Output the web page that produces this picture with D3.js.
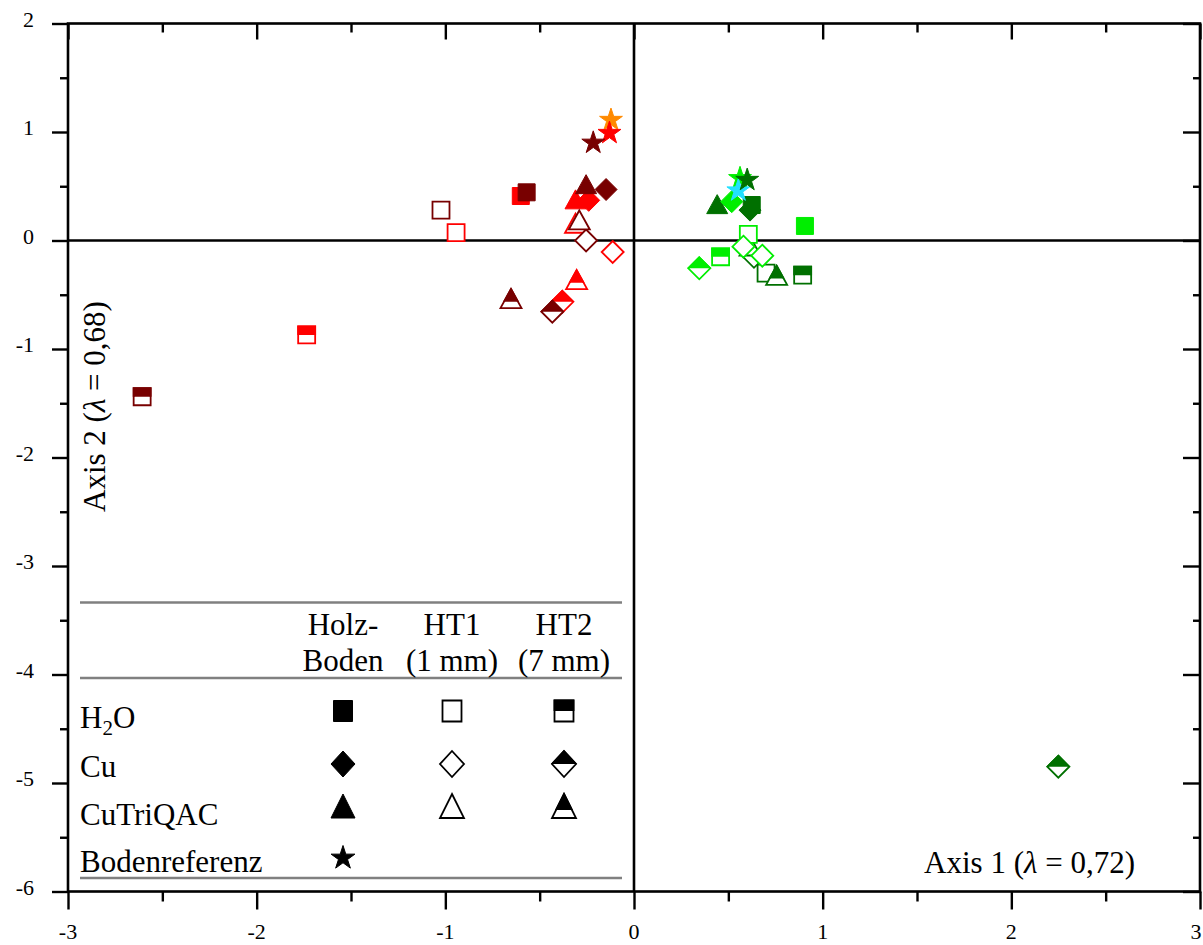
<!DOCTYPE html>
<html>
<head>
<meta charset="utf-8">
<script src="https://cdn.jsdelivr.net/npm/d3@7"></script>
<style>
  body { margin: 0; background: #fff; }
  svg { display: block; }
  text { font-family: "Liberation Serif", "Times New Roman", serif; fill: #000; }
</style>
</head>
<body>
<svg id="chart" width="1203" height="945"></svg>
<script>
// ---- data: CA ordination scores, [axis1, axis2, treatment, substrate] ----
const treatments = ["H2O", "Cu", "CuTriQAC", "Bodenreferenz"];
const substrates = ["Holz-Boden", "HT1 (1 mm)", "HT2 (7 mm)"];

const redPoints = [
  [-0.60, 0.41, "H2O", "Holz-Boden"],
  [-0.943, 0.072, "H2O", "HT1 (1 mm)"],
  [-1.735, -0.87, "H2O", "HT2 (7 mm)"],
  [-0.24, 0.37, "Cu", "Holz-Boden"],
  [-0.113, -0.106, "Cu", "HT1 (1 mm)"],
  [-0.38, -0.565, "Cu", "HT2 (7 mm)"],
  [-0.31, 0.35, "CuTriQAC", "Holz-Boden"],
  [-0.31, 0.13, "CuTriQAC", "HT1 (1 mm)"],
  [-0.304, -0.39, "CuTriQAC", "HT2 (7 mm)"]
];
const darkRedPoints = [
  [-0.569, 0.444, "H2O", "Holz-Boden"],
  [-1.023, 0.28, "H2O", "HT1 (1 mm)"],
  [-2.607, -1.44, "H2O", "HT2 (7 mm)"],
  [-0.148, 0.47, "Cu", "Holz-Boden"],
  [-0.254, 0.0, "Cu", "HT1 (1 mm)"],
  [-0.433, -0.656, "Cu", "HT2 (7 mm)"],
  [-0.254, 0.49, "CuTriQAC", "Holz-Boden"],
  [-0.29, 0.16, "CuTriQAC", "HT1 (1 mm)"],
  [-0.652, -0.564, "CuTriQAC", "HT2 (7 mm)"]
];
const darkGreenPoints = [
  [0.624, 0.327, "H2O", "Holz-Boden"],
  [0.70, -0.30, "H2O", "HT1 (1 mm)"],
  [0.894, -0.32, "H2O", "HT2 (7 mm)"],
  [0.615, 0.28, "Cu", "Holz-Boden"],
  [0.636, -0.15, "Cu", "HT1 (1 mm)"],
  [2.249, -4.85, "Cu", "HT2 (7 mm)"],
  [0.441, 0.306, "CuTriQAC", "Holz-Boden"],
  [0.615, -0.08, "CuTriQAC", "HT1 (1 mm)"],
  [0.756, -0.35, "CuTriQAC", "HT2 (7 mm)"]
];
const limePoints = [
  [0.906, 0.134, "H2O", "Holz-Boden"],
  [0.606, 0.057, "H2O", "HT1 (1 mm)"],
  [0.459, -0.15, "H2O", "HT2 (7 mm)"],
  [0.518, 0.358, "Cu", "Holz-Boden"],
  [0.58, -0.057, "Cu", "HT1 (1 mm)"],
  [0.68, -0.14, "Cu", "HT1 (1 mm)"],
  [0.346, -0.256, "Cu", "HT2 (7 mm)"]
];
// soil reference samples: [axis1, axis2, colour group]
const referencePoints = [
  [-0.122, 1.11, "orange"],
  [-0.13, 0.99, "red"],
  [-0.216, 0.90, "darkRed"],
  [0.562, 0.573, "lime"],
  [0.553, 0.46, "cyan"],
  [0.60, 0.557, "darkGreen"]
];

const xTicks = [-3, -2, -1, 0, 1, 2, 3];
const yTicks = [2, 1, 0, -1, -2, -3, -4, -5, -6];

// ---- styling ----
const palette = {
  red: "#ff0000", darkRed: "#780000", darkGreen: "#007000",
  lime: "#00ee00", orange: "#ff8a00", cyan: "#22e0ff"
};
const serif = '"Liberation Serif", "Times New Roman", serif';
const shapeOf = { "H2O": "square", "Cu": "diamond", "CuTriQAC": "triangle", "Bodenreferenz": "star" };
const fillOf = { "Holz-Boden": "full", "HT1 (1 mm)": "open", "HT2 (7 mm)": "half" };
const plotDims = { square: [17, 17], diamond: [22, 22], triangle: [21, 19], star: [12] };
const legendDims = { square: [19, 21], diamond: [24, 26], triangle: [24, 24], star: [12.5] };

const svg = d3.select("#chart");
const x = d3.scaleLinear().domain([-3, 3]).range([68, 1200]);
const y = d3.scaleLinear().domain([-6, 2]).range([891.5, 23.5]);

const defs = svg.append("defs");
defs.append("clipPath").attr("id", "topHalf")
  .append("rect").attr("x", -40).attr("y", -40).attr("width", 80).attr("height", 40);

function shapePath(shape, dims) {
  const p = d3.path();
  if (shape === "square") {
    const [w, h] = dims;
    p.rect(-w / 2, -h / 2, w, h);
  } else if (shape === "diamond") {
    const [w, h] = dims;
    p.moveTo(0, -h / 2); p.lineTo(w / 2, 0); p.lineTo(0, h / 2); p.lineTo(-w / 2, 0); p.closePath();
  } else if (shape === "triangle") {
    const [w, h] = dims;
    p.moveTo(0, -2 * h / 3); p.lineTo(w / 2, h / 3); p.lineTo(-w / 2, h / 3); p.closePath();
  } else {
    const r = dims[0];
    return d3.symbol().type(d3.symbolStar).size(r * r / 0.8908130915292852)();
  }
  return p.toString();
}

function drawMarker(g, shape, fill, color, dims) {
  const d = shapePath(shape, dims);
  if (fill === "full") {
    g.append("path").attr("d", d).attr("fill", color).attr("stroke", color).attr("stroke-width", 1);
  } else {
    g.append("path").attr("d", d).attr("fill", "#fff").attr("stroke", color).attr("stroke-width", 1.8);
    if (fill === "half") {
      g.append("path").attr("d", d).attr("fill", color).attr("stroke", color)
        .attr("stroke-width", 1.8).attr("clip-path", "url(#topHalf)");
    }
  }
}

// ---- zero lines ----
svg.append("line").attr("x1", x(-3)).attr("x2", x(3)).attr("y1", y(0)).attr("y2", y(0))
  .attr("stroke", "#000").attr("stroke-width", 2.6);
svg.append("line").attr("x1", x(0)).attr("x2", x(0)).attr("y1", y(2)).attr("y2", y(-6))
  .attr("stroke", "#000").attr("stroke-width", 2.6);

// ---- axes (tick marks from d3-axis, labels set separately) ----
const minorX = d3.range(-2.5, 3, 1);
const minorY = d3.range(1.5, -6, -1);
function styleAxis(g) {
  g.select(".domain").remove();
  g.selectAll(".tick text").remove();
  g.selectAll(".tick line").attr("stroke", "#000").attr("stroke-width", 2.4);
}
function addAxis(axis, transform) {
  svg.append("g").attr("transform", transform).call(axis).call(styleAxis);
}
addAxis(d3.axisBottom(x).tickValues(xTicks).tickSize(18), `translate(0,${y(-6)})`);
addAxis(d3.axisBottom(x).tickValues(minorX).tickSize(10), `translate(0,${y(-6)})`);
addAxis(d3.axisBottom(x).tickValues(xTicks).tickSize(16), `translate(0,${y(2)})`);
addAxis(d3.axisBottom(x).tickValues(minorX).tickSize(9), `translate(0,${y(2)})`);
addAxis(d3.axisLeft(y).tickValues(yTicks).tickSize(16), `translate(${x(-3)},0)`);
addAxis(d3.axisLeft(y).tickValues(minorY).tickSize(8), `translate(${x(-3)},0)`);
addAxis(d3.axisLeft(y).tickValues(yTicks).tickSize(17), `translate(${x(3)},0)`);
addAxis(d3.axisLeft(y).tickValues(minorY).tickSize(7), `translate(${x(3)},0)`);

// tick labels
svg.append("g").selectAll("text").data(xTicks).join("text")
  .attr("x", d => Math.min(x(d), 1196)).attr("y", 939).attr("text-anchor", "middle")
  .attr("font-family", serif).style("font-size", "22px").text(d => String(d));
svg.append("g").selectAll("text").data(yTicks).join("text")
  .attr("x", 34).attr("y", d => y(d) + 3).attr("text-anchor", "end")
  .attr("font-family", serif).style("font-size", "22px").text(d => String(d));

// frame
svg.append("rect").attr("x", x(-3)).attr("y", y(2))
  .attr("width", x(3) - x(-3)).attr("height", y(-6) - y(2))
  .attr("fill", "none").attr("stroke", "#000").attr("stroke-width", 2.6);

// ---- axis titles ----
const t1 = svg.append("text").attr("x", 1135).attr("y", 873).attr("text-anchor", "end")
  .style("font-size", "31px");
t1.append("tspan").text("Axis 1 (");
t1.append("tspan").style("font-style", "italic").text("λ");
t1.append("tspan").text(" = 0,72)");

const t2 = svg.append("text").attr("transform", "translate(105,512) rotate(-90)")
  .attr("text-anchor", "start").style("font-size", "31px");
t2.append("tspan").text("Axis 2 (");
t2.append("tspan").style("font-style", "italic").text("λ");
t2.append("tspan").text(" = 0,68)");

// ---- points ----
const pts = svg.append("g");
function drawGroup(data, color) {
  data.forEach(d => {
    const g = pts.append("g").attr("transform", `translate(${x(d[0])},${y(d[1])})`);
    const shape = shapeOf[d[2]];
    drawMarker(g, shape, fillOf[d[3]], color, plotDims[shape]);
  });
}
drawGroup(redPoints, palette.red);
drawGroup(darkRedPoints, palette.darkRed);
drawGroup(darkGreenPoints, palette.darkGreen);
drawGroup(limePoints, palette.lime);
referencePoints.forEach(d => {
  const g = pts.append("g").attr("transform", `translate(${x(d[0])},${y(d[1])})`);
  drawMarker(g, "star", "full", palette[d[2]], plotDims.star);
});

// ---- legend table ----
const leg = svg.append("g");
const colX = [343, 452, 564];
const rowY = [711, 764, 810, 858];
const ruleY = [602.5, 678, 878];
ruleY.forEach(ry => leg.append("line").attr("x1", 80).attr("x2", 622).attr("y1", ry).attr("y2", ry)
  .attr("stroke", "#808080").attr("stroke-width", 2.6));

const headTop = ["Holz-", "HT1", "HT2"];
const headBottom = ["Boden", "(1 mm)", "(7 mm)"];
substrates.forEach((s, i) => {
  leg.append("text").attr("x", colX[i]).attr("y", 635).attr("text-anchor", "middle")
    .style("font-size", "31px").text(headTop[i]);
  leg.append("text").attr("x", colX[i]).attr("y", 671).attr("text-anchor", "middle")
    .style("font-size", "31px").text(headBottom[i]);
});

const rowBase = [728, 777, 825, 872];
treatments.forEach((t, r) => {
  const lbl = leg.append("text").attr("x", 80).attr("y", rowBase[r]).style("font-size", "31px");
  if (t === "H2O") {
    lbl.append("tspan").text("H");
    lbl.append("tspan").attr("dy", 7).style("font-size", "21px").text("2");
    lbl.append("tspan").attr("dy", -7).text("O");
  } else {
    lbl.text(t);
  }
  const shape = shapeOf[t];
  const cols = shape === "star" ? [substrates[0]] : substrates;
  cols.forEach((s, c) => {
    const g = leg.append("g").attr("transform", `translate(${colX[c]},${rowY[r]})`);
    drawMarker(g, shape, shape === "star" ? "full" : fillOf[s], "#000", legendDims[shape]);
  });
});
</script>
</body>
</html>
